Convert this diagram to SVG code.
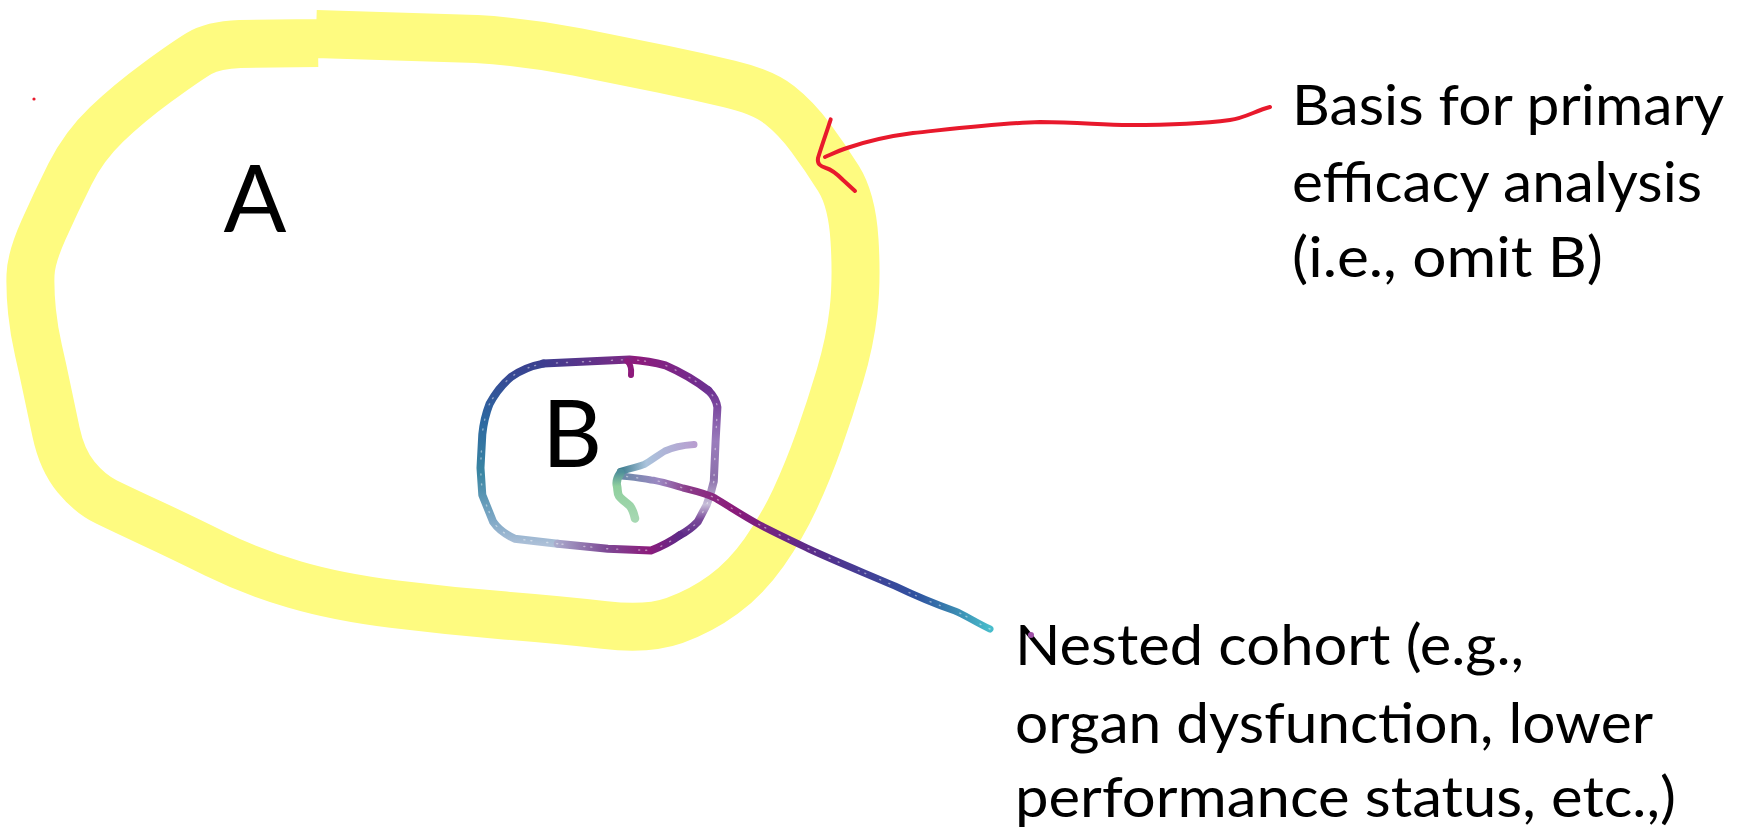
<svg xmlns="http://www.w3.org/2000/svg" width="1759" height="833" viewBox="0 0 1759 833">
  <style>
    .label { font-family: "Lato", "Carlito", "Liberation Sans", sans-serif; fill: #000; }
    .big { font-size: 93px; }
    .note { font-size: 56px; }
    .highlighter { fill: none; stroke: #FEFB80; stroke-width: 48; stroke-linejoin: round; stroke-linecap: butt; }
    .pen { fill: none; stroke-linecap: round; stroke-linejoin: round; }
    .glitter { fill: none; stroke: #ffffff; stroke-width: 1.4; stroke-dasharray: 1 9 1 15 1 6 1 21; stroke-linecap: round; opacity: 0.45; }
    .red { fill: none; stroke: #E8192C; stroke-width: 4; stroke-linecap: round; stroke-linejoin: round; }
  </style>
  <defs>
    <linearGradient id="gLeft" gradientUnits="userSpaceOnUse" x1="0" y1="548" x2="0" y2="362">
      <stop offset="0" stop-color="#b3c3da"/>
      <stop offset="0.15" stop-color="#7fa8c6"/>
      <stop offset="0.4" stop-color="#3a86a3"/>
      <stop offset="0.7" stop-color="#2d66a0"/>
      <stop offset="1" stop-color="#3a3f8f"/>
    </linearGradient>
    <linearGradient id="gTop" gradientUnits="userSpaceOnUse" x1="543" y1="0" x2="710" y2="0">
      <stop offset="0" stop-color="#3d3d8f"/>
      <stop offset="0.5" stop-color="#7a2a85"/>
      <stop offset="0.55" stop-color="#8d1a7b"/>
      <stop offset="1" stop-color="#6d3192"/>
    </linearGradient>
    <linearGradient id="gRight" gradientUnits="userSpaceOnUse" x1="0" y1="390" x2="0" y2="537">
      <stop offset="0" stop-color="#6d3192"/>
      <stop offset="0.35" stop-color="#9a7cbc"/>
      <stop offset="0.6" stop-color="#8b6fab"/>
      <stop offset="0.78" stop-color="#c6bdd8"/>
      <stop offset="0.88" stop-color="#7a4a9a"/>
      <stop offset="1" stop-color="#5e2a88"/>
    </linearGradient>
    <linearGradient id="gBottom" gradientUnits="userSpaceOnUse" x1="680" y1="0" x2="556" y2="0">
      <stop offset="0" stop-color="#5e2a88"/>
      <stop offset="0.25" stop-color="#8c1c7c"/>
      <stop offset="0.6" stop-color="#7d4a95"/>
      <stop offset="1" stop-color="#aaaacc"/>
    </linearGradient>
    <linearGradient id="gLine" gradientUnits="userSpaceOnUse" x1="990" y1="0" x2="622" y2="0">
      <stop offset="0" stop-color="#48bccb"/>
      <stop offset="0.1" stop-color="#3a86b0"/>
      <stop offset="0.2" stop-color="#2f52a0"/>
      <stop offset="0.45" stop-color="#53308d"/>
      <stop offset="0.7" stop-color="#8b1a7a"/>
      <stop offset="0.82" stop-color="#8a3a88"/>
      <stop offset="0.9" stop-color="#9c88c2"/>
      <stop offset="1" stop-color="#6a8aa8"/>
    </linearGradient>
    <linearGradient id="gBarbUp" gradientUnits="userSpaceOnUse" x1="620" y1="0" x2="695" y2="0">
      <stop offset="0" stop-color="#3a7a8c"/>
      <stop offset="0.35" stop-color="#aac3dc"/>
      <stop offset="1" stop-color="#b89ed0"/>
    </linearGradient>
    <linearGradient id="gBarbLow" gradientUnits="userSpaceOnUse" x1="0" y1="472" x2="0" y2="519">
      <stop offset="0" stop-color="#4f8f9a"/>
      <stop offset="0.3" stop-color="#8fcf9d"/>
      <stop offset="1" stop-color="#a6d8b2"/>
    </linearGradient>
  </defs>

  <rect width="1759" height="833" fill="#ffffff"/>

  <!-- outer population A: thick highlighter loop, with the small step where the stroke was restarted -->
  <g id="region-a">
    <path class="highlighter" d="M316,34 L476.5,39 Q527,42 577.5,52 Q628,62 662,69 Q696,76 729.5,84 Q763,92 779.5,105 Q796,118 810.5,137.5 Q825,157 838.5,178.5 Q852,200 854.5,240 Q857,280 853.5,311 Q850,342 840,375.5 Q830,409 819,440 Q808,471 795,499 Q782,527 764,552.5 Q746,578 723.5,594.5 Q701,611 674.5,620.5 Q648,630 604.5,625 Q561,620 505,615.5 Q449,611 393,604 Q337,597 294.5,584.5 Q252,572 215.5,554 Q179,536 151,523 Q123,510 106.5,502 Q90,494 76,477 Q62,460 56,432 Q50,404 46.5,387 Q43,370 38.5,350.5 Q34,331 32,311.5 Q30,292 30.5,275 Q31,258 43.5,230 Q56,202 70,174 Q84,146 106.5,124.5 Q129,103 157,82.5 Q185,62 199,53.5 Q213,45 240,44 L318,43"/>
    <text class="label big" x="255" y="232" text-anchor="middle">A</text>
  </g>

  <!-- nested cohort B: glitter-pen ring -->
  <g id="region-b">
    <g class="pen" stroke-width="8">
      <path stroke="url(#gLeft)" d="M557.7,543.7 L514.6,538.7 Q500,532 493.1,521.8 L482.3,494.9 L480.5,467.9 L482.3,434.3 Q484,418 489.5,404 Q498,388 511,377 Q525,367 543.3,363.6"/>
      <path stroke="url(#gTop)" d="M543.3,363.6 L629.5,359.5 Q650,361 665.4,365.3 Q690,376 708.4,390.5"/>
      <path stroke="url(#gRight)" d="M708.4,390.5 Q716,398 717.4,407.3 L715.6,441 L713.8,481.4 Q711,494 706.6,505 L697.7,521.8 Q690,530 679.7,535.3"/>
      <path stroke="url(#gBottom)" d="M679.7,535.3 Q666,545 651,550.4 L607.9,548.8 L557.7,543.7"/>
      <path stroke="#8d1a7b" stroke-width="6" d="M627,361 Q632,365 631,375"/>
    </g>
    <path class="glitter" d="M557.7,543.7 L514.6,538.7 Q500,532 493.1,521.8 L482.3,494.9 L480.5,467.9 L482.3,434.3 Q484,418 489.5,404 Q498,388 511,377 Q525,367 543.3,363.6 L629.5,359.5 Q650,361 665.4,365.3 Q690,376 708.4,390.5 Q716,398 717.4,407.3 L715.6,441 L713.8,481.4 Q711,494 706.6,505 L697.7,521.8 Q690,530 679.7,535.3 Q666,545 651,550.4 L607.9,548.8 Z"/>
    <text class="label big" x="572" y="467" text-anchor="middle" font-size="86">B</text>
  </g>

  <!-- pointers from the notes -->
  <g id="connectors">
    <g id="pointer-primary">
      <path class="red" d="M1270,107 C1255,111 1245,118 1230,120 C1200,124 1170,125 1130,125 C1100,125 1080,122 1040,122 C1000,123 960,128 913,133 C890,136 870,140 847,148 C838,151 832,154 825,157"/>
      <path class="red" d="M830.7,119.3 C827,131 822,145 818,158 C817,164 820,166 826,168 C833,170 838,175 843,180 L855,191"/>
      <circle cx="34" cy="99" r="1.6" fill="#E8192C"/>
    </g>
    <g id="pointer-nested" class="pen">
      <path stroke="url(#gLine)" stroke-width="7" d="M990,629 C975,622 965,615 955,611 C935,604 918,597 895,586 C860,571 835,561 809,549 C790,540 775,533 760,525 C745,517 730,507 715,498 C705,493 695,491 683,488 C670,484 660,481 651,480 C640,478 630,477 622,476"/>
      <path class="glitter" d="M990,629 C975,622 965,615 955,611 C935,604 918,597 895,586 C860,571 835,561 809,549 C790,540 775,533 760,525 C745,517 730,507 715,498 C705,493 695,491 683,488 C670,484 660,481 651,480 C640,478 630,477 622,476"/>
      <path stroke="url(#gBarbUp)" stroke-width="7" d="M620.5,471.3 C630,469 638,467 644,464.6 C652,460 658,455 665,451 C675,446 685,445 694,444.4"/>
      <path stroke="url(#gBarbLow)" stroke-width="8.5" d="M620.5,473 C617,478 616,482 617,486 C618,490 617,493 619,496 C622,500 627,503 630,506 C633,510 634,514 635,518.5"/>
    </g>
  </g>

  <!-- notes -->
  <g id="note-primary" class="label note">
    <text x="1292" y="125" textLength="432" lengthAdjust="spacingAndGlyphs">Basis for primary</text>
    <text x="1292" y="202" textLength="410" lengthAdjust="spacingAndGlyphs">efficacy analysis</text>
    <text x="1292" y="277" textLength="311" lengthAdjust="spacingAndGlyphs">(i.e., omit B)</text>
  </g>
  <g id="note-nested" class="label note">
    <text x="1015" y="665" textLength="509" lengthAdjust="spacingAndGlyphs">Nested cohort (e.g.,</text>
    <text x="1015" y="743" textLength="638" lengthAdjust="spacingAndGlyphs">organ dysfunction, lower</text>
    <text x="1015" y="817" textLength="661" lengthAdjust="spacingAndGlyphs">performance status, etc.,)</text>
    <circle cx="1031" cy="635" r="3" fill="#a050a8"/>
  </g>
</svg>
